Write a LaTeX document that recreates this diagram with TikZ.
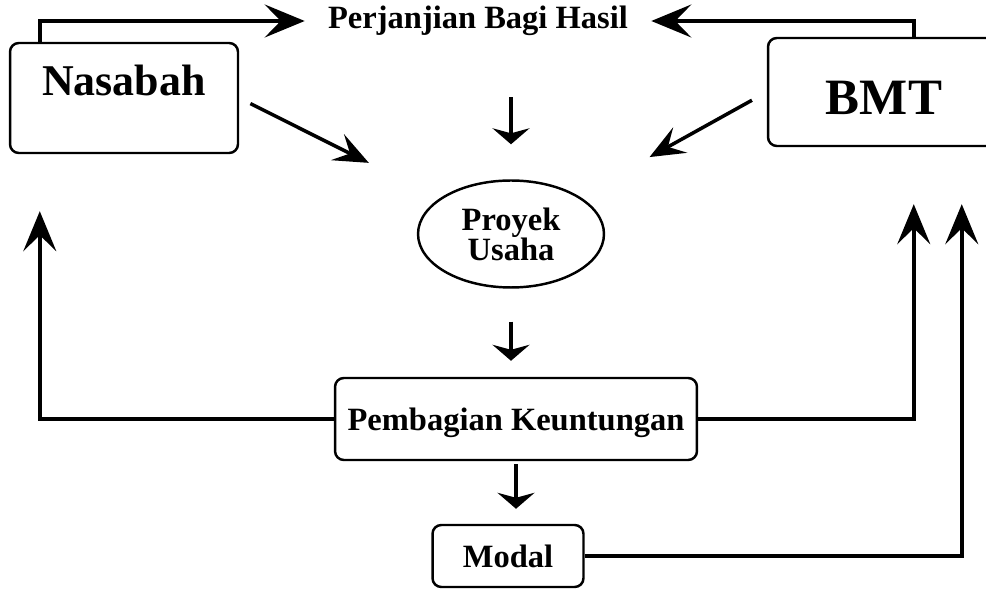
\documentclass[tikz,border=0pt]{standalone}
\usepackage{fontspec}
\setmainfont{Liberation Serif}
\usetikzlibrary{arrows.meta,shapes.geometric}

\begin{document}
\begin{tikzpicture}[x=0.02cm,y=-0.02cm,
  entity/.style={draw, line width=1.4pt, rounded corners=5pt, inner sep=0pt},
  bigtext/.style={font=\bfseries\fontsize{25}{25}\selectfont},
  midtext/.style={font=\bfseries\fontsize{18.5}{17}\selectfont},
  longarrow/.style={line width=2pt, -{Stealth[length=0.8cm,width=0.66cm,inset=0.32cm]}},
  diagarrow/.style={line width=2pt, -{Stealth[length=0.7cm,width=0.58cm,inset=0.28cm]}},
  downarrow/.style={line width=2pt, -{Stealth[length=0.32cm,width=0.74cm,inset=0.1cm]}}]

      \pgfmathsetmacro{\gapin}{1.14};

      \useasboundingbox (0,0) rectangle (986,590);

      \node[entity, bigtext, minimum width=4.56cm, minimum height=2.2cm,
      text height=0.5cm, text depth=0.58cm] (nasabah) at (124,98) {Nasabah};

      \node[entity, font=\bfseries\fontsize{29}{29}\selectfont,
      minimum width=4.64cm, minimum height=2.16cm,
      text height=1.0cm, text depth=0.08cm] (bmt) at (884,92) {BMT};

      \node[midtext, inner sep=0pt, minimum width=6.92cm] (perjanjian) at (478,21) {Perjanjian Bagi Hasil};

      \node[
      draw,
      ellipse,
      line width=1.4pt,
      inner sep=0pt,
      minimum width=3.72cm,
      minimum height=2.14cm,
      align=center,
      midtext
      ] (proyek) at (511,234) {Proyek\\Usaha};

      \node[entity, midtext, minimum width=7.24cm, minimum height=1.64cm,
      text height=0.56cm, text depth=0.08cm] (pembagian) at (516,419) {Pembagian Keuntungan};

      \node[entity, midtext, minimum width=3.02cm, minimum height=1.24cm] (modal) at (508,556) {Modal};

      % ends of the return arrows, below the two boxes
      \coordinate (nasin) at ([xshift=0.62cm, yshift=-\gapin cm]nasabah.south west);
      \coordinate (bmtina) at ([xshift=2.94cm, yshift=-\gapin cm]bmt.south west);
      \coordinate (bmtinb) at ([xshift=3.9cm, yshift=-\gapin cm]bmt.south west);

      \draw[longarrow] ([xshift=0.62cm]nasabah.north west) |- (perjanjian.west);
      \draw[longarrow] ([xshift=2.94cm]bmt.north west) |- (perjanjian.east);

      \draw[diagarrow, shorten <=0.25cm, shorten >=3.18cm] (nasabah.east) -- (proyek.center);
      \draw[diagarrow, shorten <=0.34cm, shorten >=3.17cm] (bmt.west) -- (proyek.center);

      \draw[downarrow, shorten >=0.7cm] ([yshift=1.64cm]proyek.north) -- (proyek.north);
      \draw[downarrow, shorten <=0.66cm, shorten >=0.32cm] (proyek.south) -- (proyek.south |- pembagian.north);
      \draw[downarrow, shorten <=0.06cm, shorten >=0.3cm] (pembagian.south) -- (pembagian.south |- modal.north);

      \draw[longarrow] (pembagian.west) -| (nasin);
      \draw[longarrow] (pembagian.east) -| (bmtina);
      \draw[longarrow] (modal.east) -| (bmtinb);
    \end{tikzpicture}
\end{document}
